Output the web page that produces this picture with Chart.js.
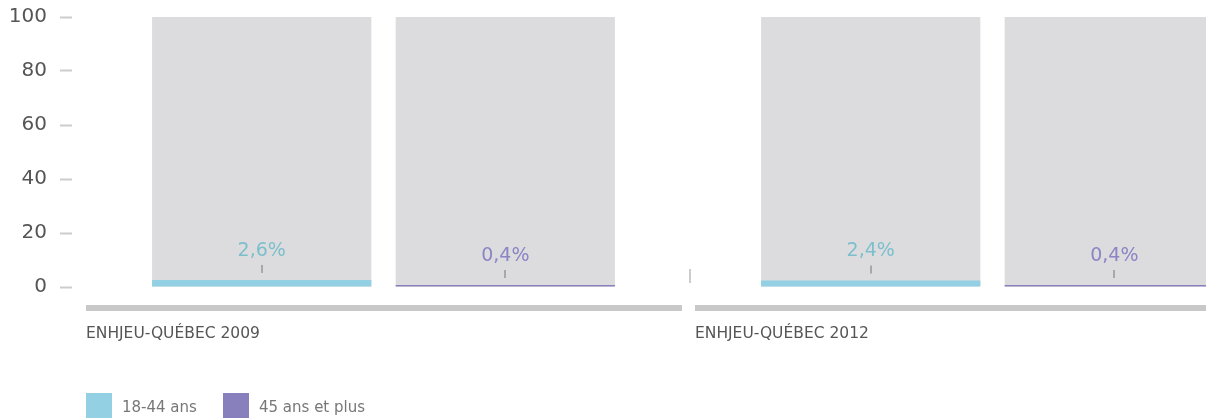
<!DOCTYPE html>
<html>
<head>
<meta charset="utf-8">
<script src="https://cdn.jsdelivr.net/npm/chart.js@4.4.1/dist/chart.umd.min.js"></script>
<style>
  html, body { margin: 0; padding: 0; background: #ffffff; overflow: hidden; width: 1206px; height: 418px; }
  #wrap { position: absolute; left: 0; top: 0; width: 1297px; height: 418px; }
  #legend { position: absolute; left: 86px; top: 393px; font-family: "DejaVu Sans", sans-serif; font-size: 15px; color: #777777; }
  .item { position: absolute; top: 0; white-space: nowrap; }
  .box { position: absolute; top: 0; width: 26px; height: 26px; }
  .lbl { position: absolute; top: 5px; }
</style>
</head>
<body>
<div id="wrap"><canvas id="c" width="1297" height="418"></canvas></div>
<div id="legend"></div>
<script>
const categories = ['ENHJEU-QUÉBEC 2009', 'ENHJEU-QUÉBEC 2012'];
const seriesNames = ['18-44 ans', '45 ans et plus'];
const series18to44 = [2.6, 2.4];
const series45plus = [0.4, 0.4];
const backgroundTotals = [100, 100];
const yTickValues = [0, 20, 40, 60, 80, 100];

const barColors = ['#93d0e3', '#8880bd'];
const labelColors = ['#7cbfcc', '#8c84c4'];
const bgColor = '#dcdcde';

const fmt = v => v.toFixed(1).replace('.', ',') + '%';

const decorPlugin = {
  id: 'decor',
  beforeDatasetsDraw(chart) {
    const ctx = chart.ctx;
    const xs = chart.scales.x;
    const catW = xs.width / categories.length;
    ctx.save();
    ctx.fillStyle = '#c8c8c8';
    categories.forEach((c, i) => {
      const cx = xs.getPixelForValue(i);
      const l = cx - catW / 2 + 7;
      const r = cx + catW / 2 - 6;
      ctx.fillRect(l, 305, r - l, 6);
    });
    ctx.fillStyle = '#cccccc';
    for (let i = 1; i < categories.length; i++) {
      const bx = (xs.getPixelForValue(i - 1) + xs.getPixelForValue(i)) / 2;
      ctx.fillRect(bx + 1, 269, 2, 14);
    }
    ctx.restore();
  },
  afterDatasetsDraw(chart) {
    const ctx = chart.ctx;
    ctx.save();
    [0, 1].forEach(di => {
      const meta = chart.getDatasetMeta(di);
      const ds = chart.data.datasets[di];
      meta.data.forEach((el, i) => {
        const top = el.y;
        ctx.fillStyle = labelColors[di];
        ctx.font = '19px "DejaVu Sans", sans-serif';
        ctx.textAlign = 'center';
        ctx.textBaseline = 'middle';
        ctx.fillText(fmt(ds.data[i]), el.x, top - 29);
        ctx.fillStyle = '#a8a8a8';
        ctx.fillRect(Math.round(el.x) - 1, top - 15, 2, 8);
      });
    });
    ctx.restore();
  }
};

new Chart(document.getElementById('c'), {
  type: 'bar',
  data: {
    labels: categories,
    datasets: [
      { label: seriesNames[0], data: series18to44, backgroundColor: barColors[0], stack: 's0', borderWidth: 0, minBarLength: 2 },
      { label: seriesNames[1], data: series45plus, backgroundColor: barColors[1], stack: 's1', borderWidth: 0, minBarLength: 2 },
      { label: 'bg0', data: backgroundTotals, backgroundColor: bgColor, stack: 's0', borderWidth: 0 },
      { label: 'bg1', data: backgroundTotals, backgroundColor: bgColor, stack: 's1', borderWidth: 0 }
    ]
  },
  options: {
    responsive: false,
    maintainAspectRatio: false,
    animation: false,
    events: [],
    layout: { padding: { top: 17, left: 0, right: 0, bottom: 0 } },
    plugins: { legend: { display: false }, tooltip: { enabled: false } },
    datasets: { bar: { categoryPercentage: 0.8, barPercentage: 0.9 } },
    scales: {
      x: {
        offset: true,
        grid: { display: false, drawTicks: false },
        border: { display: false },
        afterFit: s => { s.height = 131; s.paddingLeft = 0; s.paddingRight = 0; },
        ticks: {
          align: 'start',
          labelOffset: -297.5,
          padding: 37.5,
          color: '#555555',
          font: { family: '"DejaVu Sans", sans-serif', size: 15.5 },
          maxRotation: 0, autoSkip: false
        }
      },
      y: {
        stacked: false,
        min: 0, max: 100,
        afterFit: s => { s.width = 79; s.paddingTop = 0; s.paddingBottom = 0; },
        afterBuildTicks: s => { s.ticks = yTickValues.map(v => ({ value: v })); },
        border: { display: false },
        grid: { drawOnChartArea: false, drawTicks: true, tickLength: 19, tickColor: '#cccccc', tickWidth: 2, tickBorderDash: [12, 100] },
        ticks: {
          padding: 13,
          color: '#555555',
          font: { family: '"DejaVu Sans", sans-serif', size: 20 }
        }
      }
    }
  },
  plugins: [decorPlugin]
});

const legend = document.getElementById('legend');
const legendX = [0, 137];
seriesNames.forEach((name, i) => {
  const it = document.createElement('div');
  it.className = 'item';
  it.style.left = legendX[i] + 'px';
  const b = document.createElement('div');
  b.className = 'box';
  b.style.background = barColors[i];
  b.style.left = '0px';
  const t = document.createElement('div');
  t.className = 'lbl';
  t.style.left = '36px';
  t.textContent = name;
  it.appendChild(b); it.appendChild(t);
  legend.appendChild(it);
});
</script>
</body>
</html>
